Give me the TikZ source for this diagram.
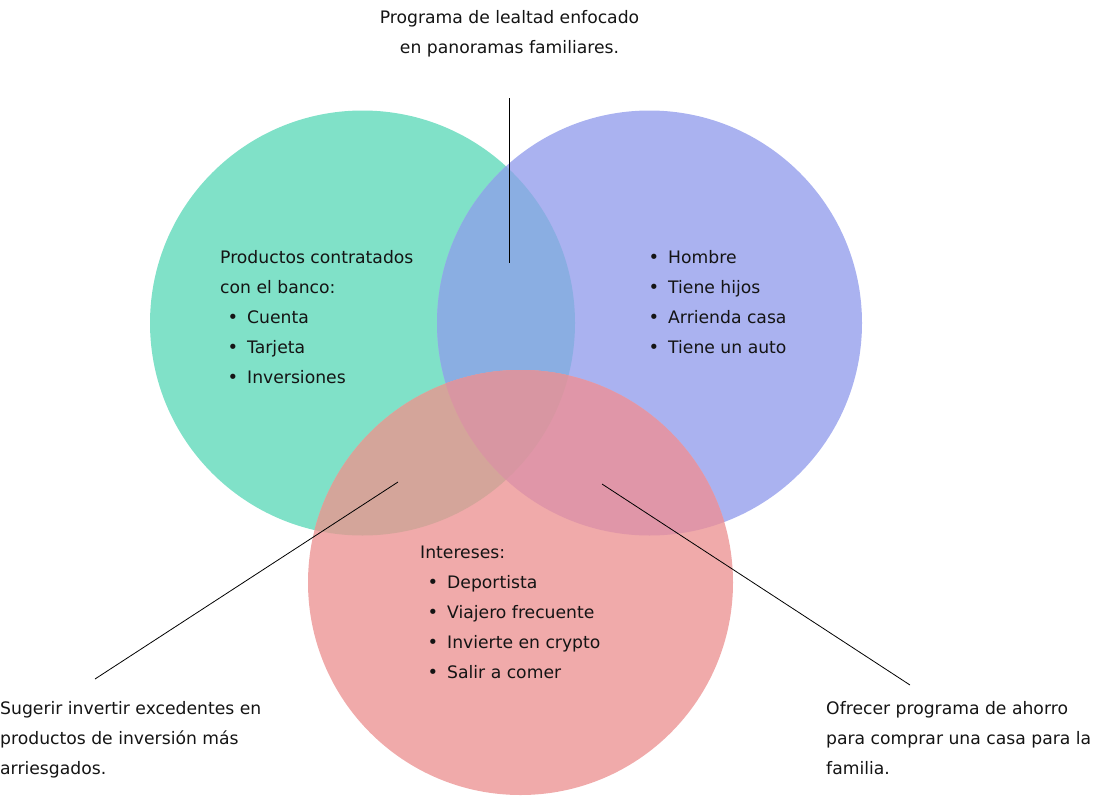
\documentclass[tikz,border=0pt]{standalone}
\usepackage{fontspec}
\setmainfont{DejaVu Sans}
\definecolor{cgreen}{HTML}{80E1C8}
\definecolor{cblue}{HTML}{AAB2F0}
\definecolor{cred}{HTML}{F0AAAA}
\definecolor{cgb}{HTML}{8AAEE2}
\definecolor{crg}{HTML}{D4A59A}
\definecolor{crb}{HTML}{E096A8}
\definecolor{crgb}{HTML}{D896A2}
\definecolor{ctext}{HTML}{141414}
\tikzset{
  txt/.style={anchor=base west, inner sep=0pt, text=ctext, font=\fontsize{17.2}{20}\selectfont},
  ctxt/.style={anchor=base, inner sep=0pt, text=ctext, font=\fontsize{17.2}{20}\selectfont},
  bul/.style={anchor=base, inner sep=0pt, text=ctext, font=\fontsize{18}{20}\selectfont},
  conn/.style={draw=black, line width=0.8pt}
}
\begin{document}
\begin{tikzpicture}[x=1pt,y=-1pt]
\useasboundingbox (0,0) rectangle (1107,795);
\coordinate (G) at (362.5,323);
\coordinate (B) at (649.5,323);
\coordinate (R) at (520.5,582.5);
\def\rr{212.5pt}
\fill[cgreen] (G) circle[radius=\rr];
\fill[cblue] (B) circle[radius=\rr];
\begin{scope}
  \clip (G) circle[radius=\rr];
  \fill[cgb] (B) circle[radius=\rr];
\end{scope}
\fill[cred] (R) circle[radius=\rr];
\begin{scope}
  \clip (R) circle[radius=\rr];
  \fill[crg] (G) circle[radius=\rr];
  \fill[crb] (B) circle[radius=\rr];
  \clip (G) circle[radius=\rr];
  \fill[crgb] (B) circle[radius=\rr];
\end{scope}
% connectors
\coordinate (t1) at (509,98);
\coordinate (t2) at (509,263);
\coordinate (l1) at (398,482);
\coordinate (l2) at (95,679);
\coordinate (r1) at (602,484);
\coordinate (r2) at (910,685);
\draw[conn] (t1) -- (t2);
\draw[conn] (l1) -- (l2);
\draw[conn] (r1) -- (r2);
% top text
\node[ctxt] (top1) at (509.5,23.5) {Programa de lealtad enfocado};
\node[ctxt] (top2) at (509.5,53.5) {en panoramas familiares.};
% green
\node[txt] (g1) at (220,263.5) {Productos contratados};
\node[txt] (g2) at (220,293.5) {con el banco:};
\node[bul] (gb1) at (233,323.5) {•};
\node[txt] (g3) at (247,323.5) {Cuenta};
\node[bul] (gb2) at (233,353.5) {•};
\node[txt] (g4) at (247,353.5) {Tarjeta};
\node[bul] (gb3) at (233,383.5) {•};
\node[txt] (g5) at (247,383.5) {Inversiones};
% blue
\node[bul] (bb1) at (654,263.5) {•};
\node[txt] (b1) at (668,263.5) {Hombre};
\node[bul] (bb2) at (654,293.5) {•};
\node[txt] (b2) at (668,293.5) {Tiene hijos};
\node[bul] (bb3) at (654,323.5) {•};
\node[txt] (b3) at (668,323.5) {Arrienda casa};
\node[bul] (bb4) at (654,353.5) {•};
\node[txt] (b4) at (668,353.5) {Tiene un auto};
% red
\node[txt] (r0) at (420,558.5) {Intereses:};
\node[bul] (rb1) at (433,588.5) {•};
\node[txt] (rt1) at (447,588.5) {Deportista};
\node[bul] (rb2) at (433,618.5) {•};
\node[txt] (rt2) at (447,618.5) {Viajero frecuente};
\node[bul] (rb3) at (433,648.5) {•};
\node[txt] (rt3) at (447,648.5) {Invierte en crypto};
\node[bul] (rb4) at (433,678.5) {•};
\node[txt] (rt4) at (447,678.5) {Salir a comer};
% bottom left
\node[txt] (bl1) at (0,714.5) {Sugerir invertir excedentes en};
\node[txt] (bl2) at (0,744.5) {productos de inversión más};
\node[txt] (bl3) at (0,774.5) {arriesgados.};
% bottom right
\node[txt] (br1) at (826,714.5) {Ofrecer programa de ahorro};
\node[txt] (br2) at (826,744.5) {para comprar una casa para la};
\node[txt] (br3) at (826,774.5) {familia.};
\end{tikzpicture}
\end{document}
